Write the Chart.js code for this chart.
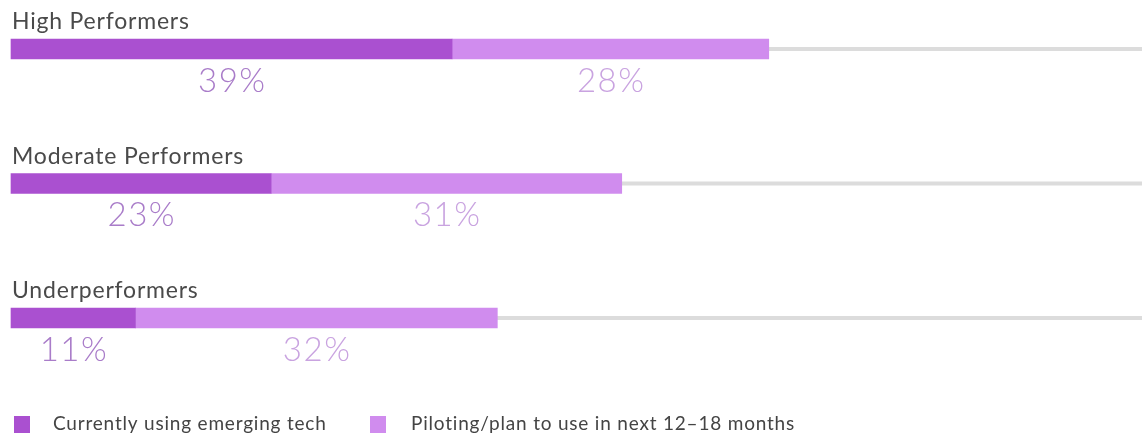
<!DOCTYPE html>
<html>
<head>
<meta charset="utf-8">
<script src="https://cdn.jsdelivr.net/npm/chart.js@4.4.1/dist/chart.umd.min.js"></script>
<style>
html,body{margin:0;padding:0;background:#fff;}
#wrap{width:1142px;height:436px;position:relative;}
</style>
</head>
<body>
<div id="wrap"><canvas id="c" width="1142" height="436"></canvas></div>
<script>
const categories = ["High Performers", "Moderate Performers", "Underperformers"];
const currentlyUsing = [39, 23, 11];
const piloting = [28, 31, 32];
const seriesLabels = ["Currently using emerging tech", "Piloting/plan to use in next 12\u201318 months"];
const barColors = ["#aa50d0", "#d08cee"];
const labelColors = ["#a97cc9", "#c9a3e0"];
const FONT = "Lato, 'Open Sans', sans-serif";

function spacedText(ctx, text, x, y, spacing) {
  ctx.letterSpacing = spacing + 'px';
  let dx = 0;
  if (ctx.textAlign === 'center') dx = spacing / 2;
  ctx.fillText(text, x + dx, y);
  ctx.letterSpacing = '0px';
}

const decor = {
  id: 'decor',
  beforeDatasetsDraw(chart) {
    const ctx = chart.ctx, area = chart.chartArea;
    const meta = chart.getDatasetMeta(0);
    ctx.save();
    ctx.strokeStyle = '#dcdcdc';
    ctx.lineWidth = 4;
    meta.data.forEach(bar => {
      ctx.beginPath();
      ctx.moveTo(area.left, bar.y);
      ctx.lineTo(area.right, bar.y);
      ctx.stroke();
    });
    ctx.restore();
  },
  afterDatasetsDraw(chart) {
    const ctx = chart.ctx, area = chart.chartArea;
    ctx.save();
    const meta0 = chart.getDatasetMeta(0);
    ctx.font = "23px " + FONT;
    ctx.fillStyle = '#4a4a4a';
    ctx.textAlign = 'left';
    ctx.textBaseline = 'alphabetic';
    meta0.data.forEach((bar, i) => {
      spacedText(ctx, chart.data.labels[i], area.left + 1, bar.y - bar.height / 2 - 10, 0.8);
    });
    ctx.font = "300 33px " + FONT;
    ctx.textAlign = 'center';
    ctx.textBaseline = 'middle';
    chart.data.datasets.forEach((ds, di) => {
      const meta = chart.getDatasetMeta(di);
      ctx.fillStyle = labelColors[di];
      meta.data.forEach((bar, i) => {
        const left = Math.min(bar.x, bar.base), right = Math.max(bar.x, bar.base);
        spacedText(ctx, ds.data[i] + '%', (left + right) / 2, bar.y + bar.height / 2 + 22, 1.5);
      });
    });
    ctx.restore();
  },
  afterDraw(chart) {
    const ctx = chart.ctx;
    ctx.save();
    ctx.font = "19px " + FONT;
    ctx.textBaseline = 'middle';
    ctx.textAlign = 'left';
    const pos = [[14, 53], [370, 411]];
    const cy = 424;
    chart.data.datasets.forEach((ds, di) => {
      ctx.fillStyle = ds.backgroundColor;
      ctx.fillRect(pos[di][0], cy - 8, 16, 17);
      ctx.fillStyle = '#444';
      spacedText(ctx, ds.label, pos[di][1], cy, 0.8);
    });
    ctx.restore();
  }
};

new Chart(document.getElementById('c'), {
  type: 'bar',
  data: {
    labels: categories,
    datasets: [
      { label: seriesLabels[0], data: currentlyUsing, backgroundColor: barColors[0], borderWidth: 0, barThickness: 20, clip: false },
      { label: seriesLabels[1], data: piloting, backgroundColor: barColors[1], borderWidth: 0, barThickness: 20, clip: false }
    ]
  },
  options: {
    indexAxis: 'y',
    responsive: false,
    animation: false,
    layout: { padding: { left: 11, right: 0, top: 49, bottom: 118 } },
    scales: {
      x: { stacked: true, min: 0, max: 100, display: false },
      y: { stacked: true, display: false, offset: false }
    },
    plugins: { legend: { display: false }, tooltip: { enabled: false } }
  },
  plugins: [decor]
});
</script>
</body>
</html>
